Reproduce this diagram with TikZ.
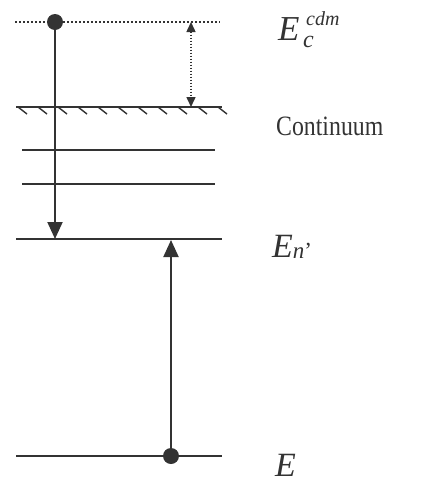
\documentclass[tikz,border=0pt]{standalone}
\usepackage{fontspec}
\setmainfont{Liberation Serif}
\usetikzlibrary{arrows.meta}
\definecolor{ink}{HTML}{333333}
\tikzset{
  level/.style={draw=ink, line width=1.8pt},
  hatch/.style={draw=ink, line width=1.4pt},
  dotline/.style={draw=ink, line width=1.5pt, dash pattern=on 1.5pt off 2.5pt},
  bigarrow/.style={draw=ink, line width=2pt, -{Triangle[width=15pt,length=17pt]}},
  smallarrow/.style={draw=ink, line width=1.5pt, dash pattern=on 1.5pt off 1.5pt, {Triangle[width=9pt,length=10pt]}-{Triangle[width=9pt,length=10pt]}},
  dot/.style={circle, fill=ink, inner sep=0pt, minimum size=16pt},
  lbl/.style={anchor=base west, inner sep=0pt, text=ink}
}
\begin{document}
\begin{tikzpicture}[x=1pt,y=-1pt]
\useasboundingbox (0,0) rectangle (422,483);
% top dotted level
\coordinate (tl) at (15,22);
\coordinate (tr) at (220,22);
\draw[dotline] (tl) -- (tr);
% continuum edge
\coordinate (cl) at (16,107);
\coordinate (cr) at (222,107);
\draw[level] (cl) -- (cr);
\foreach \x in {18,38,...,218} {
  \draw[hatch] (\x,107) -- ++(9,7);
}
% discrete levels
\coordinate (a1) at (22,150); \coordinate (a2) at (215,150);
\coordinate (b1) at (22,184); \coordinate (b2) at (215,184);
\draw[level] (a1) -- (a2);
\draw[level] (b1) -- (b2);
\coordinate (nl) at (16,239); \coordinate (nr) at (222,239);
\draw[level] (nl) -- (nr);
\coordinate (el) at (16,456); \coordinate (er) at (222,456);
\draw[level] (el) -- (er);
% dots
\node[dot] (d1) at (55,22) {};
\node[dot] (d2) at (171,456) {};
% arrows
\coordinate (t1) at (55,239);
\coordinate (t2) at (171,240);
\draw[bigarrow] (d1.center) -- (t1);
\draw[bigarrow] (d2.center) -- (t2);
\coordinate (g1) at (191,22); \coordinate (g2) at (191,107);
\draw[smallarrow] (g1) -- (g2);
% labels
\node[lbl, font=\fontsize{35}{37}\selectfont] (L1) at (278,40) {\textit{E}\hspace{3.6pt}\rlap{\raisebox{-7pt}{\fontsize{24}{26}\selectfont\textit{c}}}\hspace{3pt}\raisebox{15pt}{\fontsize{20}{22}\selectfont\textit{cdm}}};
\node[lbl, font=\fontsize{28}{30}\selectfont] (L2) at (276,135) {\scalebox{0.85}[1]{Continuum}};
\node[lbl, font=\fontsize{34}{36}\selectfont] (L3) at (272,257) {\textit{E}\raisebox{-1pt}{\fontsize{23}{25}\selectfont\textit{n}’}};
\node[lbl, font=\fontsize{34}{36}\selectfont] (L4) at (275,476) {\textit{E}};
\end{tikzpicture}
\end{document}
